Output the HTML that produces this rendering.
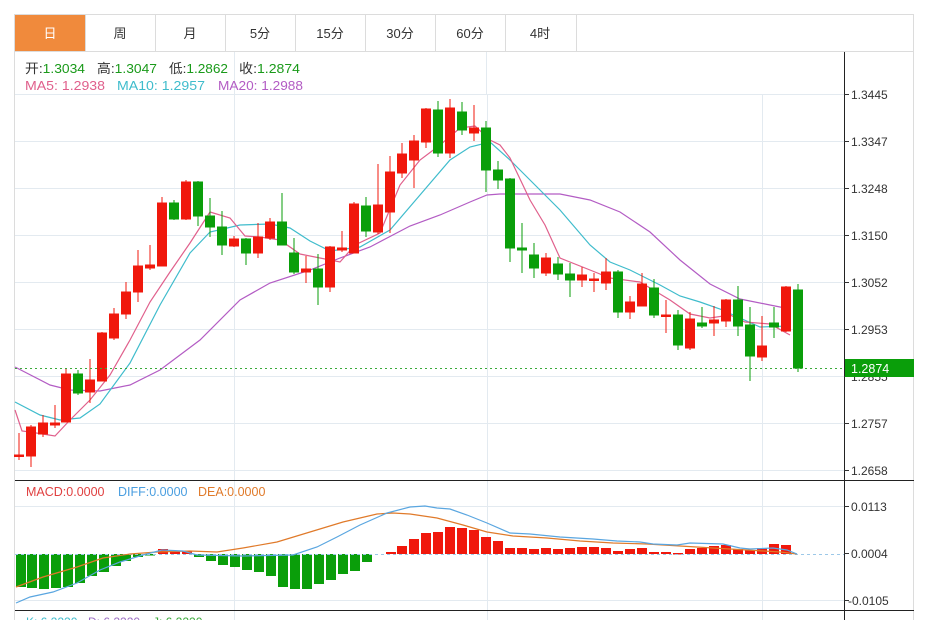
<!DOCTYPE html>
<html><head><meta charset="utf-8"><style>
body{margin:0;background:#fff;width:926px;height:620px;overflow:hidden;font-family:"Liberation Sans","Noto Sans CJK SC",sans-serif}
</style></head><body>
<svg width="926" height="620" xmlns="http://www.w3.org/2000/svg" font-family="Liberation Sans, Noto Sans CJK SC, sans-serif">
<rect x="14.5" y="14.5" width="899" height="620" fill="#fff" stroke="#dcdcdc"/>
<line x1="15" y1="51.5" x2="914" y2="51.5" stroke="#dcdcdc"/>
<rect x="15" y="15" width="70" height="36" fill="#f08a3c"/>
<g stroke="#dcdcdc"><line x1="85.5" y1="15" x2="85.5" y2="51"/><line x1="155.5" y1="15" x2="155.5" y2="51"/><line x1="225.5" y1="15" x2="225.5" y2="51"/><line x1="295.5" y1="15" x2="295.5" y2="51"/><line x1="365.5" y1="15" x2="365.5" y2="51"/><line x1="435.5" y1="15" x2="435.5" y2="51"/><line x1="505.5" y1="15" x2="505.5" y2="51"/><line x1="576.5" y1="15" x2="576.5" y2="51"/></g>
<g font-size="13" text-anchor="middle" fill="#333"><text x="50" y="38" fill="#fff">日</text><text x="120" y="38">周</text><text x="190" y="38">月</text><text x="260" y="38">5分</text><text x="330" y="38">15分</text><text x="400" y="38">30分</text><text x="470" y="38">60分</text><text x="540" y="38">4时</text></g>
<g stroke="#e3eaf0"><line x1="15" y1="94.5" x2="844" y2="94.5"/><line x1="15" y1="141.5" x2="844" y2="141.5"/><line x1="15" y1="188.5" x2="844" y2="188.5"/><line x1="15" y1="235.5" x2="844" y2="235.5"/><line x1="15" y1="282.5" x2="844" y2="282.5"/><line x1="15" y1="329.5" x2="844" y2="329.5"/><line x1="15" y1="376.5" x2="844" y2="376.5"/><line x1="15" y1="423.5" x2="844" y2="423.5"/><line x1="15" y1="470.5" x2="844" y2="470.5"/>
<line x1="15" y1="506.5" x2="844" y2="506.5"/><line x1="15" y1="600.5" x2="844" y2="600.5"/>
<line x1="234.5" y1="52" x2="234.5" y2="620"/><line x1="487.5" y1="95" x2="487.5" y2="620"/><line x1="762.5" y1="95" x2="762.5" y2="620"/><line x1="486.5" y1="52" x2="486.5" y2="95"/></g>
<g font-size="13">
<text x="25" y="73" fill="#333" textLength="60" lengthAdjust="spacingAndGlyphs">开:<tspan fill="#1a9a1a">1.3034</tspan></text>
<text x="97" y="73" fill="#333" textLength="60" lengthAdjust="spacingAndGlyphs">高:<tspan fill="#1a9a1a">1.3047</tspan></text>
<text x="169" y="73" fill="#333" textLength="59" lengthAdjust="spacingAndGlyphs">低:<tspan fill="#1a9a1a">1.2862</tspan></text>
<text x="239" y="73" fill="#333" textLength="61" lengthAdjust="spacingAndGlyphs">收:<tspan fill="#1a9a1a">1.2874</tspan></text>
<text x="25" y="90" fill="#e0608c" textLength="80" lengthAdjust="spacingAndGlyphs">MA5: 1.2938</text><text x="117" y="90" fill="#3fbccc" textLength="88" lengthAdjust="spacingAndGlyphs">MA10: 1.2957</text><text x="218" y="90" fill="#b35cc4" textLength="85" lengthAdjust="spacingAndGlyphs">MA20: 1.2988</text>
<text x="26" y="496" fill="#e04040" font-size="12.5">MACD:0.0000</text><text x="118" y="496" fill="#4a9ee0" font-size="12.5">DIFF:0.0000</text><text x="198" y="496" fill="#e07a2a" font-size="12.5">DEA:0.0000</text>
<text x="26" y="626" fill="#3fbccc" font-size="12">K: 6.2220</text><text x="88" y="626" fill="#9b6cc4" font-size="12">D: 6.2220</text><text x="153" y="626" fill="#3aaa3a" font-size="12">J: 6.2220</text></g>
<polyline fill="none" stroke="#b35cc4" stroke-width="1.2" points="15,367 50,385 70,390 100,391 130,385 160,370 200,340 240,300 270,283 310,270 340,258 370,247 410,226 440,215 470,202 487,195 500,194 530,194 560,194 590,200 620,212 650,232 680,260 710,284 740,299 770,305 790,309"/>
<polyline fill="none" stroke="#3fbccc" stroke-width="1.2" points="15,402 40,415 60,420 80,418 100,404 130,363 160,305 190,253 210,232 240,225 270,224 290,228 310,241 330,251 360,247 390,230 420,195 450,160 470,147 490,142 510,160 530,180 560,210 590,245 610,262 630,270 660,285 680,296 700,302 720,309 740,318 760,327 790,326"/>
<polyline fill="none" stroke="#e0608c" stroke-width="1.2" points="15,410 22,431 30,432 55,436 70,420 90,400 110,375 130,340 150,302 170,272 190,243 210,212 230,218 245,236 260,237 280,240 300,254 320,258 340,262 355,245 380,233 400,185 420,160 440,145 460,128 475,126 490,140 500,145 510,158 530,200 545,225 560,258 590,270 610,278 640,282 670,300 690,314 710,318 730,315 745,322 770,324 790,335"/>
<g stroke-width="1">
<g stroke="#f0180c" fill="#f0180c">
<line x1="19" y1="433" x2="19" y2="460"/><rect x="14.5" y="455" width="9" height="1.5"/>
<line x1="31" y1="425" x2="31" y2="467"/><rect x="26.5" y="427" width="9" height="29"/>
<line x1="43" y1="415" x2="43" y2="437"/><rect x="38.5" y="423" width="9" height="11"/>
<line x1="55" y1="405" x2="55" y2="428"/><rect x="50.5" y="423" width="9" height="2"/>
<line x1="66" y1="368" x2="66" y2="422"/><rect x="61.5" y="374" width="9" height="48"/>
<line x1="90" y1="359" x2="90" y2="403"/><rect x="85.5" y="380" width="9" height="12"/>
<line x1="102" y1="332" x2="102" y2="381"/><rect x="97.5" y="333" width="9" height="48"/>
<line x1="114" y1="308" x2="114" y2="340"/><rect x="109.5" y="314" width="9" height="24"/>
<line x1="126" y1="282" x2="126" y2="319"/><rect x="121.5" y="292" width="9" height="22"/>
<line x1="138" y1="250" x2="138" y2="302"/><rect x="133.5" y="266" width="9" height="26"/>
<line x1="150" y1="245" x2="150" y2="270"/><rect x="145.5" y="265" width="9" height="3"/>
<line x1="162" y1="197" x2="162" y2="266"/><rect x="157.5" y="203" width="9" height="63"/>
<line x1="186" y1="180" x2="186" y2="220"/><rect x="181.5" y="182" width="9" height="37"/>
<line x1="234" y1="236" x2="234" y2="247"/><rect x="229.5" y="239" width="9" height="7"/>
<line x1="258" y1="223" x2="258" y2="258"/><rect x="253.5" y="237" width="9" height="16"/>
<line x1="270" y1="218" x2="270" y2="240"/><rect x="265.5" y="222" width="9" height="16"/>
<line x1="306" y1="256" x2="306" y2="283"/><rect x="301.5" y="269" width="9" height="3"/>
<line x1="330" y1="246" x2="330" y2="292"/><rect x="325.5" y="247" width="9" height="40"/>
<line x1="342" y1="231" x2="342" y2="252"/><rect x="337.5" y="248" width="9" height="2"/>
<line x1="354" y1="202" x2="354" y2="253"/><rect x="349.5" y="204" width="9" height="49"/>
<line x1="378" y1="164" x2="378" y2="234"/><rect x="373.5" y="205" width="9" height="27"/>
<line x1="390" y1="156" x2="390" y2="233"/><rect x="385.5" y="172" width="9" height="40"/>
<line x1="402" y1="143" x2="402" y2="178"/><rect x="397.5" y="154" width="9" height="19"/>
<line x1="414" y1="135" x2="414" y2="188"/><rect x="409.5" y="141" width="9" height="19"/>
<line x1="426" y1="108" x2="426" y2="148"/><rect x="421.5" y="109" width="9" height="33"/>
<line x1="450" y1="99" x2="450" y2="158"/><rect x="445.5" y="108" width="9" height="45"/>
<line x1="474" y1="105" x2="474" y2="141"/><rect x="469.5" y="128" width="9" height="5"/>
<line x1="546" y1="253" x2="546" y2="276"/><rect x="541.5" y="258" width="9" height="15"/>
<line x1="582" y1="267" x2="582" y2="287"/><rect x="577.5" y="275" width="9" height="5"/>
<line x1="594" y1="273" x2="594" y2="292"/><rect x="589.5" y="279" width="9" height="1.5"/>
<line x1="606" y1="258" x2="606" y2="290"/><rect x="601.5" y="272" width="9" height="11"/>
<line x1="630" y1="296" x2="630" y2="319"/><rect x="625.5" y="302" width="9" height="10"/>
<line x1="642" y1="273" x2="642" y2="306"/><rect x="637.5" y="284" width="9" height="22"/>
<line x1="666" y1="300" x2="666" y2="333"/><rect x="661.5" y="315" width="9" height="1.5"/>
<line x1="690" y1="312" x2="690" y2="350"/><rect x="685.5" y="319" width="9" height="29"/>
<line x1="714" y1="306" x2="714" y2="336"/><rect x="709.5" y="320" width="9" height="3"/>
<line x1="726" y1="299" x2="726" y2="327"/><rect x="721.5" y="300" width="9" height="21"/>
<line x1="762" y1="316" x2="762" y2="361"/><rect x="757.5" y="346" width="9" height="11"/>
<line x1="786" y1="286" x2="786" y2="332"/><rect x="781.5" y="287" width="9" height="44"/>
</g>
<g stroke="#0a9e0a" fill="#0a9e0a">
<line x1="78" y1="370" x2="78" y2="395"/><rect x="73.5" y="374" width="9" height="19"/>
<line x1="174" y1="200" x2="174" y2="220"/><rect x="169.5" y="203" width="9" height="16"/>
<line x1="198" y1="181" x2="198" y2="226"/><rect x="193.5" y="182" width="9" height="34"/>
<line x1="210" y1="198" x2="210" y2="237"/><rect x="205.5" y="216" width="9" height="11"/>
<line x1="222" y1="211" x2="222" y2="255"/><rect x="217.5" y="227" width="9" height="18"/>
<line x1="246" y1="238" x2="246" y2="265"/><rect x="241.5" y="239" width="9" height="14"/>
<line x1="282" y1="193" x2="282" y2="245"/><rect x="277.5" y="222" width="9" height="23"/>
<line x1="294" y1="238" x2="294" y2="274"/><rect x="289.5" y="253" width="9" height="19"/>
<line x1="318" y1="254" x2="318" y2="305"/><rect x="313.5" y="269" width="9" height="18"/>
<line x1="366" y1="197" x2="366" y2="237"/><rect x="361.5" y="206" width="9" height="25"/>
<line x1="438" y1="101" x2="438" y2="157"/><rect x="433.5" y="110" width="9" height="43"/>
<line x1="462" y1="102" x2="462" y2="135"/><rect x="457.5" y="112" width="9" height="18"/>
<line x1="486" y1="121" x2="486" y2="192"/><rect x="481.5" y="128" width="9" height="42"/>
<line x1="498" y1="161" x2="498" y2="189"/><rect x="493.5" y="170" width="9" height="10"/>
<line x1="510" y1="178" x2="510" y2="262"/><rect x="505.5" y="179" width="9" height="69"/>
<line x1="522" y1="223" x2="522" y2="273"/><rect x="517.5" y="248" width="9" height="2"/>
<line x1="534" y1="243" x2="534" y2="278"/><rect x="529.5" y="255" width="9" height="13"/>
<line x1="558" y1="257" x2="558" y2="280"/><rect x="553.5" y="264" width="9" height="10"/>
<line x1="570" y1="263" x2="570" y2="297"/><rect x="565.5" y="274" width="9" height="6"/>
<line x1="618" y1="270" x2="618" y2="318"/><rect x="613.5" y="272" width="9" height="40"/>
<line x1="654" y1="279" x2="654" y2="318"/><rect x="649.5" y="288" width="9" height="27"/>
<line x1="678" y1="310" x2="678" y2="350"/><rect x="673.5" y="315" width="9" height="30"/>
<line x1="702" y1="307" x2="702" y2="328"/><rect x="697.5" y="323" width="9" height="3"/>
<line x1="738" y1="286" x2="738" y2="336"/><rect x="733.5" y="300" width="9" height="26"/>
<line x1="750" y1="307" x2="750" y2="381"/><rect x="745.5" y="325" width="9" height="31"/>
<line x1="774" y1="307" x2="774" y2="338"/><rect x="769.5" y="323" width="9" height="4"/>
<line x1="798" y1="284" x2="798" y2="372"/><rect x="793.5" y="290" width="9" height="78"/>
</g></g>
<line x1="15" y1="368.5" x2="844" y2="368.5" stroke="#3aaa3a" stroke-dasharray="2,3"/>
<g fill="#0a9e0a">
<rect x="16" y="554" width="10" height="33"/><rect x="27" y="554" width="10" height="34"/><rect x="39" y="554" width="10" height="35"/><rect x="51" y="554" width="10" height="34"/><rect x="63" y="554" width="10" height="33"/><rect x="75" y="554" width="10" height="29"/><rect x="87" y="554" width="10" height="22"/><rect x="99" y="554" width="10" height="18"/><rect x="111" y="554" width="10" height="12"/><rect x="121" y="554" width="10" height="7"/><rect x="133" y="554" width="10" height="3"/><rect x="145" y="554" width="10" height="1.5"/>
<rect x="194" y="554" width="10" height="3"/><rect x="206" y="554" width="10" height="7"/><rect x="218" y="554" width="10" height="11"/><rect x="230" y="554" width="10" height="13"/><rect x="242" y="554" width="10" height="16"/><rect x="254" y="554" width="10" height="18"/><rect x="266" y="554" width="10" height="22"/><rect x="278" y="554" width="10" height="33"/><rect x="290" y="554" width="10" height="35"/><rect x="302" y="554" width="10" height="35"/><rect x="314" y="554" width="10" height="30"/><rect x="326" y="554" width="10" height="26"/><rect x="338" y="554" width="10" height="20"/><rect x="350" y="554" width="10" height="17"/><rect x="362" y="554" width="10" height="8"/>
</g>
<g fill="#f0180c">
<rect x="158" y="549" width="10" height="5"/><rect x="170" y="551" width="10" height="3"/><rect x="182" y="551" width="10" height="3"/>
<rect x="386" y="552" width="10" height="2"/><rect x="397" y="546" width="10" height="8"/><rect x="409" y="539" width="10" height="15"/><rect x="421" y="533" width="10" height="21"/><rect x="433" y="532" width="10" height="22"/><rect x="445" y="527" width="10" height="27"/><rect x="457" y="528" width="10" height="26"/><rect x="469" y="530" width="10" height="24"/><rect x="481" y="537" width="10" height="17"/><rect x="493" y="541" width="10" height="13"/><rect x="505" y="548" width="10" height="6"/><rect x="517" y="548" width="10" height="6"/><rect x="529" y="549" width="10" height="5"/><rect x="541" y="548" width="10" height="6"/><rect x="553" y="549" width="10" height="5"/><rect x="565" y="548" width="10" height="6"/><rect x="577" y="547" width="10" height="7"/><rect x="589" y="547" width="10" height="7"/><rect x="601" y="548" width="10" height="6"/><rect x="613" y="551" width="10" height="3"/><rect x="625" y="549" width="10" height="5"/><rect x="637" y="548" width="10" height="6"/><rect x="649" y="552" width="10" height="2"/><rect x="661" y="552" width="10" height="2"/><rect x="673" y="553" width="10" height="1.5"/><rect x="685" y="549" width="10" height="5"/><rect x="697" y="548" width="10" height="6"/><rect x="709" y="546" width="10" height="8"/><rect x="721" y="545" width="10" height="9"/><rect x="733" y="549" width="10" height="5"/><rect x="745" y="550" width="10" height="4"/><rect x="757" y="548" width="10" height="6"/><rect x="769" y="544" width="10" height="10"/><rect x="781" y="545" width="10" height="9"/>
</g>
<line x1="15" y1="554.5" x2="844" y2="554.5" stroke="#9cc8e8" stroke-dasharray="3,3"/>
<polyline fill="none" stroke="#e07a2a" stroke-width="1.2" points="16,587 43,577 77,567 103,558 130,554 157,552 190,551 217,552 243,548 277,542 310,532 343,522 377,514 393,513 410,514 437,518 463,525 487,532 513,536 547,538 580,541 613,543 647,544 680,546 713,548 747,550 780,552 797,554"/>
<polyline fill="none" stroke="#5aa6e0" stroke-width="1.2" points="16,603 30,597 53,592 77,583 100,570 120,562 143,555 162,550 183,551 197,555 243,556 293,555 317,547 337,537 360,525 387,513 410,507 425,506 437,508 450,509 467,515 487,523 510,533 530,534 560,537 593,539 617,541 640,542 653,544 677,545 690,543 723,544 740,548 750,549 773,548 787,550 797,554"/>
<line x1="844.5" y1="52" x2="844.5" y2="620" stroke="#222"/>
<line x1="15" y1="480.5" x2="914" y2="480.5" stroke="#222"/>
<line x1="15" y1="610.5" x2="914" y2="610.5" stroke="#222"/>
<g stroke="#333"><line x1="844" y1="94.5" x2="849" y2="94.5"/><line x1="844" y1="141.5" x2="849" y2="141.5"/><line x1="844" y1="188.5" x2="849" y2="188.5"/><line x1="844" y1="235.5" x2="849" y2="235.5"/><line x1="844" y1="282.5" x2="849" y2="282.5"/><line x1="844" y1="329.5" x2="849" y2="329.5"/><line x1="844" y1="376.5" x2="849" y2="376.5"/><line x1="844" y1="423.5" x2="849" y2="423.5"/><line x1="844" y1="470.5" x2="849" y2="470.5"/><line x1="844" y1="506.5" x2="849" y2="506.5"/><line x1="844" y1="553.5" x2="849" y2="553.5"/><line x1="844" y1="600.5" x2="849" y2="600.5"/></g>
<g font-size="12" fill="#333"><text x="851" y="99">1.3445</text><text x="851" y="146">1.3347</text><text x="851" y="193">1.3248</text><text x="851" y="240">1.3150</text><text x="851" y="287">1.3052</text><text x="851" y="334">1.2953</text><text x="851" y="381">1.2855</text><text x="851" y="428">1.2757</text><text x="851" y="475">1.2658</text><text x="851" y="511">0.0113</text><text x="851" y="558">0.0004</text><text x="848" y="605">-0.0105</text></g>
<rect x="845" y="359" width="69" height="18" fill="#0a9e0a"/>
<text x="851" y="373" font-size="12.5" fill="#fff">1.2874</text>
</svg>
</body></html>
